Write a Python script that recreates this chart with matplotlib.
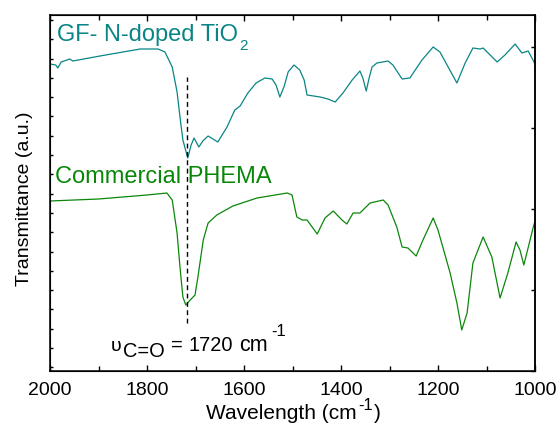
import numpy as np
import matplotlib
matplotlib.use("Agg")
import matplotlib.pyplot as plt

plt.rcParams["font.family"] = "Liberation Sans"

# FTIR spectra (wavenumber in cm-1, transmittance in a.u.)
tio2_wn = [2000, 1988, 1984, 1977, 1959, 1953, 1897, 1814, 1777, 1763, 1748, 1738,
           1732, 1726, 1716, 1709, 1703, 1693, 1685, 1674, 1664, 1654, 1635, 1619,
           1608, 1592, 1575, 1557, 1542, 1534, 1526, 1517, 1509, 1497, 1485, 1476,
           1470, 1443, 1427, 1412, 1396, 1377, 1361, 1355, 1348, 1342, 1336, 1326,
           1303, 1293, 1274, 1258, 1233, 1210, 1196, 1161, 1144, 1128, 1113, 1107,
           1078, 1062, 1041, 1027, 1014, 1002, 1000]
tio2_t = [307, 306, 303, 309, 312, 310, 315, 322, 322, 319, 304, 279,
          254, 231, 213, 226, 233, 224, 230, 235, 232, 229, 244, 261,
          265, 278, 288, 293, 292, 286, 274, 285, 299, 306, 301, 291,
          276, 274, 272, 269, 278, 291, 300, 293, 280, 293, 304, 308,
          310, 306, 292, 293, 311, 324, 319, 288, 308, 323, 322, 323,
          309, 316, 327, 318, 320, 309, 306]

phema_wn = [2000, 1900, 1800, 1759, 1748, 1738, 1732, 1726, 1720, 1711, 1701, 1695,
            1684, 1674, 1656, 1623, 1573, 1511, 1501, 1491, 1480, 1470, 1449, 1433,
            1416, 1398, 1388, 1375, 1361, 1340, 1313, 1303, 1285, 1274, 1262, 1245,
            1231, 1210, 1200, 1175, 1161, 1151, 1140, 1128, 1107, 1089, 1072, 1056,
            1039, 1031, 1023, 1004, 1000]
phema_t = [170, 172, 176, 178, 171, 138, 104, 74, 66, 71, 76, 94,
           131, 148, 156, 165, 173, 178, 176, 154, 151, 151, 137, 153,
           160, 151, 147, 158, 158, 168, 171, 166, 144, 124, 123, 115,
           131, 153, 141, 98, 68, 41, 58, 108, 134, 114, 73, 98,
           129, 121, 106, 143, 150]

teal = "#0a8585"
green = "#0a870a"
W, H = 559, 434

fig = plt.figure(figsize=(W / 100, H / 100), dpi=100)
ax = fig.add_axes([50 / W, 63 / H, 485 / W, 356 / H])

ax.plot(tio2_wn, tio2_t, color=teal, lw=0.9)
ax.plot(phema_wn, phema_t, color=green, lw=0.9)
ax.plot([1718, 1718], [48, 294], color="black", lw=1.0, ls=(0, (3.5, 2.5)))

ax.set_xlim(2000, 1000)
ax.set_ylim(0, 356)
ax.set_xticks(np.arange(2000, 999, -200))
ax.set_xticks(np.arange(1900, 1000, -200), minor=True)
ax.set_yticks(np.arange(3.7, 356, 19.3))
ax.set_yticklabels([])
ax.tick_params(axis="x", which="both", direction="in", top=True, labelsize=14, pad=8)
ax.tick_params(axis="x", which="major", length=4.5, width=1)
ax.tick_params(axis="x", which="minor", length=3.5, width=1)
ax.tick_params(axis="y", direction="in", length=2.5, width=1, right=False)
for s in ax.spines.values():
    s.set_linewidth(1.1)

ax2 = ax.twinx()
ax2.set_ylim(0, 356)
ax2.set_yticks([0, 81, 162, 243, 324])
ax2.set_yticklabels([])
ax2.tick_params(axis="y", direction="in", length=3, width=1)
ax2.spines["right"].set_linewidth(1.1)

ax.set_ylabel("Transmittance (a.u.)", fontsize=14)
ax.yaxis.set_label_coords(-0.035, 0.483)

# x label built from pieces so the "-1" sits like the original
fig.text(357 / W, 1 - 419 / H, "Wavelength (cm", fontsize=15, ha="right", va="baseline")
fig.text(358 / W, 1 - 410 / H, "-1", fontsize=12, ha="left", va="baseline")
fig.text(374 / W, 1 - 419 / H, ")", fontsize=15, ha="left", va="baseline")

ax.text(1986, 330, "GF- N-doped TiO", color=teal, fontsize=17, va="baseline")
ax.text(1610, 321, "2", color=teal, fontsize=11, va="baseline")
ax.text(1990, 188, "Commercial PHEMA", color=green, fontsize=17, va="baseline")

ax.text(1874, 20, "\u03c5", fontsize=14, va="baseline")
ax.text(1849, 14, "C=O", fontsize=14.4, va="baseline")
ax.text(1751, 20, "=", fontsize=14.4, va="baseline")
ax.text(1715, 20, "1720", fontsize=14.4, va="baseline")
ax.text(1610, 20, "cm", fontsize=15.5, va="baseline")
ax.text(1543, 35, "-1", fontsize=12, va="baseline")

fig.savefig("out.png", dpi=100)
